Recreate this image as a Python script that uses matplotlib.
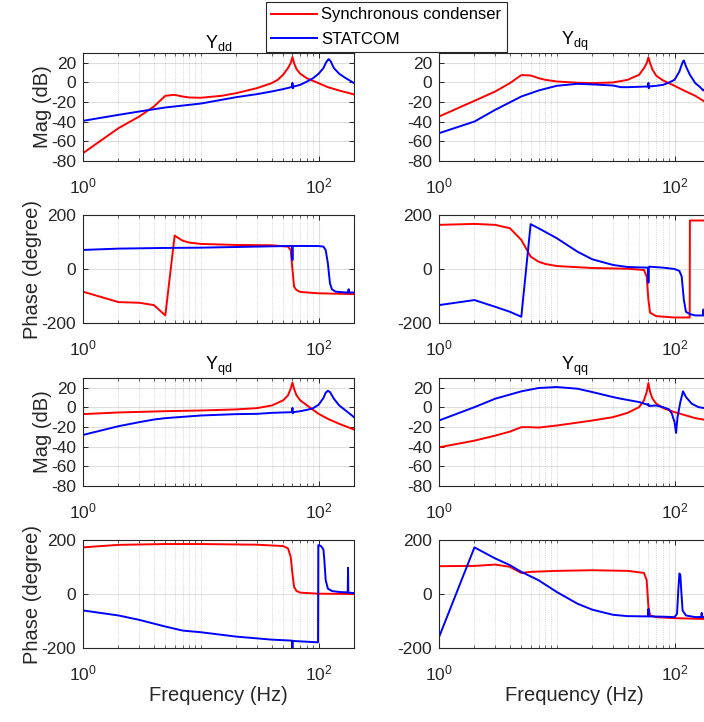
import numpy as np
import matplotlib.pyplot as plt
from matplotlib.ticker import FixedLocator, NullFormatter, LogFormatterSciNotation

plt.rcParams['font.family'] = ['Liberation Sans', 'DejaVu Sans']
plt.rcParams['mathtext.fontset'] = 'custom'
plt.rcParams['mathtext.rm'] = 'Liberation Sans'
plt.rcParams['mathtext.it'] = 'Liberation Sans'
plt.rcParams['mathtext.default'] = 'regular'

# ---------------- data ----------------
# Ydd magnitude (dB)
ydd_mag_sc_f = [1, 2, 3, 4, 5, 6, 7, 8, 10, 15, 20, 30, 40, 45, 50, 55, 58, 60, 62, 65, 70, 80, 100, 120, 150, 200]
ydd_mag_sc = [-72, -46.6, -34.7, -24.5, -13.6, -12.6, -14.3, -15.3, -15.6, -13.6, -10.9, -5.8, -0.7, 2.7, 7.8, 14.6, 19.7, 25.9, 19.7, 13.6, 8.8, 4.1, -0.7, -4.8, -8.2, -12.2]
ydd_mag_st_f = [1, 2, 3, 5, 10, 20, 30, 40, 50, 59.5, 60, 60.4, 61, 70, 80, 90, 100, 110, 115, 120, 122, 127, 135, 150, 170, 190, 200]
ydd_mag_st = [-39.1, -33, -29.6, -25.5, -21.5, -15, -11.9, -9.2, -6.8, -4.6, -0.5, -6, -4.3, -2.4, 1, 4.4, 8.8, 14.6, 19.7, 23, 23.8, 21.4, 14.6, 8.8, 4.4, 1, -0.7]

# Ydd phase (degree)
ydd_ph_sc_f = [1, 2, 3, 4, 5, 6, 7, 8, 10, 20, 40, 55, 58, 60, 62, 65, 70, 100, 200]
ydd_ph_sc = [-84, -122.6, -125, -133.7, -172, 123.8, 105, 97.8, 92.9, 89, 88, 83, 70, 0, -65.6, -78, -85, -90, -93]
ydd_ph_st_f = [1, 2, 5, 10, 30, 59.5, 60, 60.5, 61, 100, 110, 115, 120, 125, 130, 140, 170, 179, 180, 181, 200]
ydd_ph_st = [70.6, 75.5, 78, 79, 83, 85.4, 33, 85, 85.4, 85, 83, 70, 21, -53, -75.5, -84, -87, -87, -75, -87, -87]

# Ydq magnitude (dB)
ydq_mag_sc_f = [1, 2, 3, 4, 5, 6, 7, 8, 10, 15, 20, 30, 40, 50, 55, 58, 60, 62, 65, 70, 80, 100, 120, 150, 200]
ydq_mag_sc = [-34.7, -18.7, -9.2, -0.7, 7.5, 7.1, 4.4, 2.7, 1, -0.3, -0.7, 0, 2.7, 7.8, 14.6, 19.7, 25.5, 19.7, 12.9, 6.8, 2, -3.4, -8.2, -13.6, -23]
ydq_mag_st_f = [1, 2, 3, 5, 7, 10, 15, 20, 30, 35, 40, 59.5, 60, 60.4, 61, 70, 80, 90, 100, 110, 115, 118, 120, 125, 135, 150, 165, 175, 180, 200]
ydq_mag_st = [-51.7, -39.8, -27.9, -14.3, -8.2, -3.4, -1.4, -2, -3.1, -4.8, -4.8, -4.1, -0.5, -6, -4.1, -3.4, -2.4, 0, 2.7, 11.2, 18, 21.4, 22.4, 16.3, 7.8, -0.7, -4.8, -8.2, -6.8, -8]

# Ydq phase (degree)
ydq_ph_sc_f = [1, 2, 3, 4, 5, 6, 7, 8, 10, 20, 40, 55, 58, 60, 62, 70, 100, 134.5, 135, 200]
ydq_ph_sc = [163.5, 167, 163.5, 151, 107.7, 45.8, 27, 18.6, 11, 3.7, 1, -3.7, -28, -115, -162, -174.6, -179.6, -179.6, 179.6, 179.6]
ydq_ph_st_f = [1, 2, 3, 4, 5, 6, 7, 10, 15, 20, 30, 40, 59.5, 60, 60.5, 61, 80, 100, 110, 115, 120, 125, 135, 150, 170, 175, 176, 177, 200]
ydq_ph_st = [-133.7, -115, -140, -158.5, -177, 166, 151, 114, 64, 36, 15, 7.4, 5, -51, 5, 8.7, 5, 0, -7.4, -28, -115, -158.5, -167, -172, -172, -172, -150, -172, -172]

# Yqd magnitude (dB)
yqd_mag_sc_f = [1, 2, 5, 10, 20, 30, 40, 50, 55, 58, 60, 62, 65, 70, 80, 100, 120, 150, 200]
yqd_mag_sc = [-6.8, -5.1, -3.8, -3.1, -2, -0.7, 2, 7.2, 12.3, 19.1, 25.3, 19.1, 12.3, 7.2, 2, -6.5, -11.6, -16.7, -22.5]
yqd_mag_st_f = [1, 2, 3, 4, 5, 10, 20, 30, 40, 59.5, 60, 60.4, 61, 70, 80, 90, 100, 110, 115, 120, 125, 135, 150, 170, 200]
yqd_mag_st = [-28, -19.1, -15, -12.3, -10.9, -8.2, -6.8, -6.5, -5.5, -4.8, -0.5, -6, -4.8, -3.8, -2.4, -0.7, 2.7, 9.6, 15, 17, 15.7, 8.9, 2, -3.1, -9.9]

# Yqd phase (degree)
yqd_ph_sc_f = [1, 2, 5, 10, 30, 50, 55, 58, 60, 62, 65, 70, 100, 200]
yqd_ph_sc = [172.7, 182, 185, 185, 182.6, 177.6, 169, 138, 75.8, 26, 11.2, 5, 1.2, 0]
yqd_ph_st_f = [1, 2, 3, 5, 7, 10, 20, 40, 59.5, 60, 60.4, 61, 99, 99.5, 105, 110, 112, 115, 120, 130, 150, 177, 178, 179, 200]
yqd_ph_st = [-60.9, -79.5, -95.7, -120.5, -135.4, -141.6, -157.8, -169, -172.7, -200, -174, -174, -179, 181, 177.6, 165, 125, 51, 20, 11, 7.4, 6, 97, 5, 3.7]

# Yqq magnitude (dB)
yqq_mag_sc_f = [1, 2, 3, 4, 5, 6, 7, 10, 20, 30, 40, 50, 55, 58, 60, 62, 65, 70, 80, 100, 120, 150, 200]
yqq_mag_sc = [-40.6, -33.8, -28.7, -24.6, -20.1, -20.1, -20.5, -18.4, -13.3, -9.9, -5.5, 0.3, 7.2, 15.7, 24.9, 15.7, 8.9, 3.8, -0.7, -4.8, -7.5, -10.9, -13.5]
yqq_mag_st_f = [1, 2, 3, 5, 7, 10, 15, 20, 30, 35, 50, 59.5, 60, 60.5, 70, 80, 90, 95, 100, 103, 106, 112, 118, 125, 140, 160, 180, 200]
yqq_mag_st = [-13.3, 0.3, 8.9, 16.4, 19.8, 20.8, 19.1, 15.7, 10.6, 8.9, 5.5, 2.7, 3.5, 1.5, 2, 0.3, -2, -6.5, -15, -26, -9.9, 5.5, 16.4, 10.6, 3.8, 0.3, -0.7, -2]

# Yqq phase (degree)
yqq_ph_sc_f = [1, 2, 3, 4, 5, 6, 10, 20, 40, 55, 58, 60, 62, 70, 100, 200]
yqq_ph_sc = [103, 104, 109, 100.6, 78, 82, 85.7, 88, 85.7, 78, 51, -48, -79.5, -85.7, -89.4, -93]
yqq_ph_st_f = [1, 2, 3, 4, 5, 7, 10, 15, 20, 30, 40, 59.5, 60, 60.5, 80, 100, 105, 108, 110, 112, 114, 117, 125, 150, 169, 170, 171, 200]
yqq_ph_st = [-160, 172.7, 131.7, 106.8, 82, 51, 7.4, -36, -58, -77, -82, -83, -55, -83, -84, -85.7, -73, 26, 76, 70, 13.7, -61, -79.5, -85.7, -85, -70, -85, -85]

titles = [r'Y$_{dd}$', r'Y$_{dq}$', r'Y$_{qd}$', r'Y$_{qq}$']
legend_labels = ['Synchronous condenser', 'STATCOM']

panels = [
    # (row, col, sc_f, sc, st_f, st, kind, title)
    (0, 0, ydd_mag_sc_f, ydd_mag_sc, ydd_mag_st_f, ydd_mag_st, 'mag', titles[0]),
    (0, 1, ydq_mag_sc_f, ydq_mag_sc, ydq_mag_st_f, ydq_mag_st, 'mag', titles[1]),
    (1, 0, ydd_ph_sc_f, ydd_ph_sc, ydd_ph_st_f, ydd_ph_st, 'ph', None),
    (1, 1, ydq_ph_sc_f, ydq_ph_sc, ydq_ph_st_f, ydq_ph_st, 'ph', None),
    (2, 0, yqd_mag_sc_f, yqd_mag_sc, yqd_mag_st_f, yqd_mag_st, 'mag', titles[2]),
    (2, 1, yqq_mag_sc_f, yqq_mag_sc, yqq_mag_st_f, yqq_mag_st, 'mag', titles[3]),
    (3, 0, yqd_ph_sc_f, yqd_ph_sc, yqd_ph_st_f, yqd_ph_st, 'ph', None),
    (3, 1, yqq_ph_sc_f, yqq_ph_sc, yqq_ph_st_f, yqq_ph_st, 'ph', None),
]

W, H = 704, 722
fig = plt.figure(figsize=(W / 100, H / 100), dpi=100)

lefts = [83, 439]
tops = [53, 215, 378, 540]
aw, ah = 271, 108
dark = '#262626'

handles = None
for row, col, sf, sv, tf, tv, kind, title in panels:
    ax = fig.add_axes([lefts[col] / W, 1 - (tops[row] + ah) / H, aw / W, ah / H])
    l1, = ax.plot(sf, sv, color='red', lw=1.4)
    l2, = ax.plot(tf, tv, color='blue', lw=1.4)
    if handles is None:
        handles = [l1, l2]
    ax.set_xscale('log')
    ax.set_xlim(1, 200)
    ax.xaxis.set_major_locator(FixedLocator([1, 100]))
    ax.xaxis.set_major_formatter(LogFormatterSciNotation())
    minors = [k * 10 ** e for e in range(0, 3) for k in range(2, 10)] + [10]
    ax.xaxis.set_minor_locator(FixedLocator(sorted(minors)))
    ax.xaxis.set_minor_formatter(NullFormatter())
    if kind == 'mag':
        ax.set_ylim(-80, 30)
        ax.set_yticks([-80, -60, -40, -20, 0, 20])
        ax.set_yticklabels(['-80', '-60', '-40', '-20', '0', '20'])
        if col == 0:
            ax.set_ylabel('Mag (dB)', fontsize=14.5, color=dark, labelpad=-0.5)
    else:
        ax.set_ylim(-200, 200)
        ax.set_yticks([-200, 0, 200])
        ax.set_yticklabels(['-200', '0', '200'])
        if col == 0:
            ax.set_ylabel('Phase (degree)', fontsize=14.5, color=dark, labelpad=-0.5)
    if row == 3:
        ax.set_xlabel('Frequency (Hz)', fontsize=14.5, color=dark, labelpad=2)
    if title:
        ax.set_title(title, fontsize=13, color='black', pad=3)
    ax.grid(True, which='major', color=dark, alpha=0.15, lw=0.8)
    ax.grid(True, which='minor', axis='x', color=dark, alpha=0.25, lw=0.6, ls=':')
    ax.tick_params(which='both', direction='in', top=True, right=True, colors=dark,
                   labelsize=12.5, labelcolor=dark)
    ax.tick_params(which='major', length=3.5, width=0.7, pad=5)
    ax.tick_params(axis='x', which='major', pad=11)
    ax.tick_params(which='minor', length=2, width=0.5)
    for s in ax.spines.values():
        s.set_color(dark)
        s.set_linewidth(0.8)

leg = fig.legend(handles, legend_labels, loc='lower left',
                 bbox_to_anchor=(266 / W, 1 - 52 / H), borderaxespad=0,
                 fancybox=False, edgecolor=dark, framealpha=1, fontsize=12,
                 handlelength=2.75, handletextpad=0.25, borderpad=0.32, labelspacing=0.55)
leg.get_frame().set_linewidth(0.8)

fig.savefig('out.png', dpi=100)
